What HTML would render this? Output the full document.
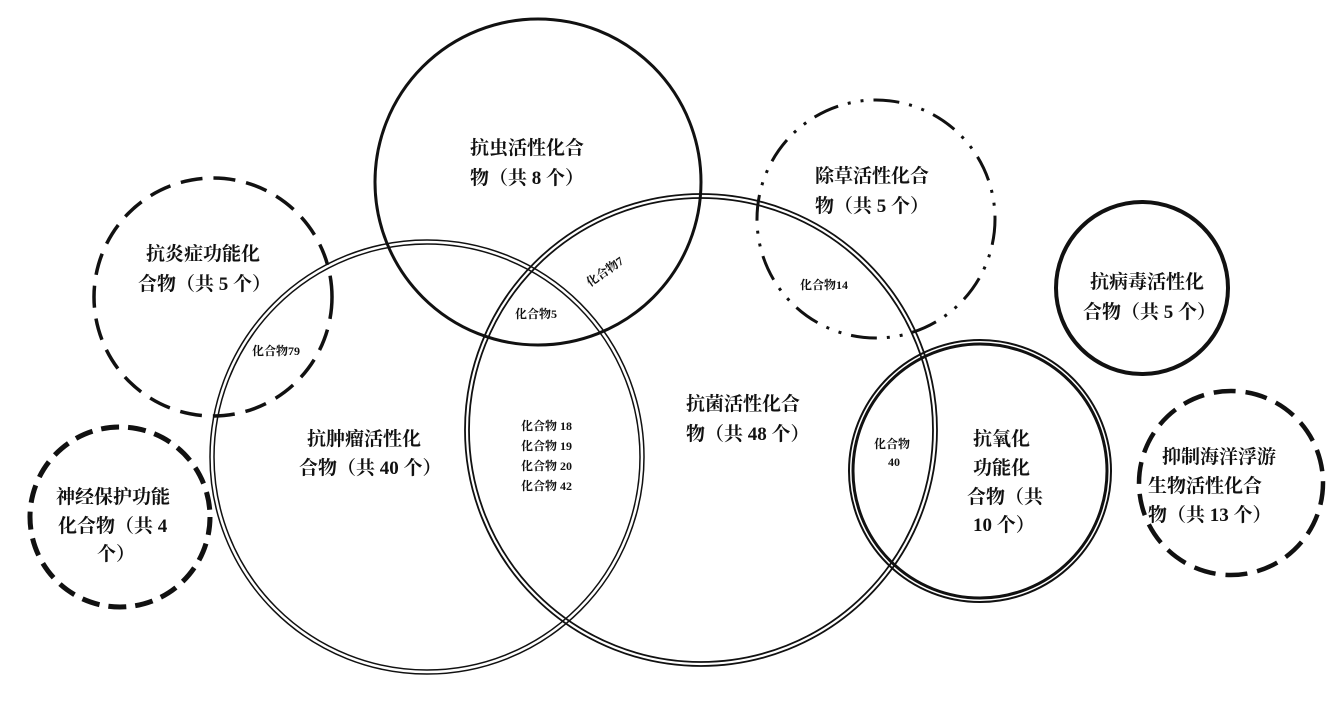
<!DOCTYPE html>
<html><head><meta charset="utf-8"><style>
html,body{margin:0;padding:0;background:#fff}
svg{display:block}
text{font-family:"Liberation Serif","Noto Serif CJK SC","Noto Sans CJK SC",serif;font-weight:bold;fill:#111}
.b{font-size:19px}
.s{font-size:12px}
</style></head><body>
<svg width="1337" height="707" viewBox="0 0 1337 707" xmlns="http://www.w3.org/2000/svg">
<g fill="none" stroke="#111">
<circle cx="538" cy="182" r="163" stroke-width="3"/>
<circle cx="876" cy="219" r="119" stroke-width="3" stroke-dasharray="26 10 3 10 3 10"/>
<circle cx="213" cy="297" r="119" stroke-width="3.5" stroke-dasharray="22 11"/>
<circle cx="1142" cy="288" r="86" stroke-width="4"/>
<circle cx="120" cy="517" r="90" stroke-width="5" stroke-dasharray="18 9"/>
<circle cx="1231" cy="483" r="92" stroke-width="4.5" stroke-dasharray="22 10"/>
<circle cx="427" cy="457" r="213" stroke-width="1.5"/>
<circle cx="427" cy="457" r="217" stroke-width="1.5"/>
<circle cx="701" cy="430" r="232" stroke-width="1.8"/>
<circle cx="701" cy="430" r="236" stroke-width="1.8"/>
<circle cx="980" cy="471" r="127" stroke-width="3"/>
<circle cx="980" cy="471" r="131" stroke-width="2"/>
</g>
<text class="b" x="470" y="154">抗虫活性化合</text>
<text class="b" x="470" y="184">物（共 8 个）</text>
<text class="b" x="815" y="182">除草活性化合</text>
<text class="b" x="815" y="212">物（共 5 个）</text>
<text class="b" x="146" y="260">抗炎症功能化</text>
<text class="b" x="138" y="290">合物（共 5 个）</text>
<text class="b" x="1090" y="288">抗病毒活性化</text>
<text class="b" x="1083" y="318">合物（共 5 个）</text>
<text class="b" x="56" y="503">神经保护功能</text>
<text class="b" x="58" y="532">化合物（共 4</text>
<text class="b" x="97" y="560">个）</text>
<text class="b" x="1162" y="463">抑制海洋浮游</text>
<text class="b" x="1148" y="492">生物活性化合</text>
<text class="b" x="1148" y="521">物（共 13 个）</text>
<text class="b" x="307" y="445">抗肿瘤活性化</text>
<text class="b" x="299" y="474">合物（共 40 个）</text>
<text class="b" x="686" y="410">抗菌活性化合</text>
<text class="b" x="686" y="440">物（共 48 个）</text>
<text class="b" x="973" y="445">抗氧化</text>
<text class="b" x="973" y="474">功能化</text>
<text class="b" x="967" y="503">合物（共</text>
<text class="b" x="973" y="531">10 个）</text>
<text class="s" x="252" y="355">化合物79</text>
<text class="s" x="515" y="318">化合物5</text>
<text class="s" x="590" y="287" transform="rotate(-35 590 287)">化合物7</text>
<text class="s" x="800" y="289">化合物14</text>
<text class="s" x="521" y="430">化合物 18</text>
<text class="s" x="521" y="450">化合物 19</text>
<text class="s" x="521" y="470">化合物 20</text>
<text class="s" x="521" y="490">化合物 42</text>
<text class="s" x="874" y="448">化合物</text>
<text class="s" x="888" y="466">40</text>
</svg>
</body></html>
